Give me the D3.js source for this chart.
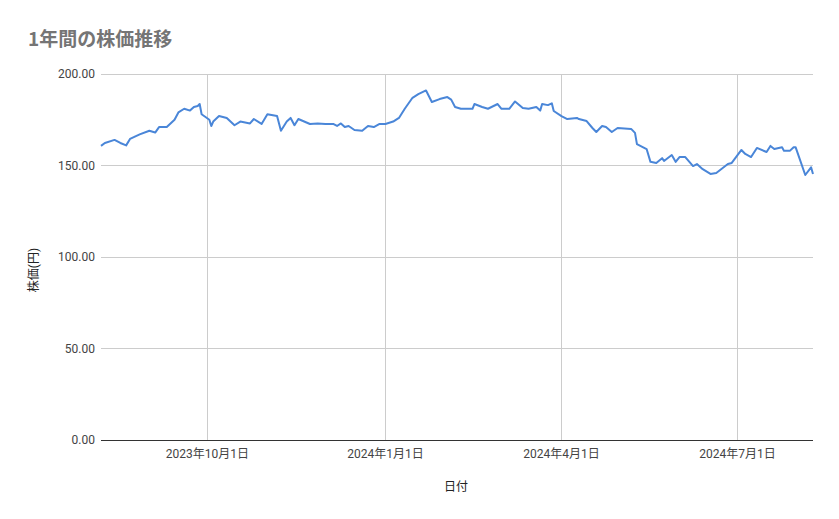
<!DOCTYPE html>
<html><head><meta charset="utf-8">
<script src="https://cdn.jsdelivr.net/npm/d3@7"></script>
<style>body{margin:0;background:#fff;font-family:"Noto Sans CJK JP","Roboto",sans-serif}</style>
</head><body><svg id="c" width="839" height="519"></svg>
<script>
const dates = ["2023-08-07","2023-08-09","2023-08-14","2023-08-17","2023-08-20","2023-08-22","2023-08-27","2023-09-01","2023-09-04","2023-09-06","2023-09-10","2023-09-14","2023-09-16","2023-09-19","2023-09-22","2023-09-24","2023-09-26","2023-09-27","2023-09-28","2023-10-02","2023-10-03","2023-10-04","2023-10-07","2023-10-11","2023-10-15","2023-10-18","2023-10-23","2023-10-25","2023-10-29","2023-11-01","2023-11-06","2023-11-08","2023-11-11","2023-11-13","2023-11-15","2023-11-17","2023-11-23","2023-11-27","2023-12-01","2023-12-05","2023-12-07","2023-12-09","2023-12-11","2023-12-13","2023-12-16","2023-12-20","2023-12-23","2023-12-26","2023-12-29","2024-01-01","2024-01-05","2024-01-08","2024-01-11","2024-01-15","2024-01-18","2024-01-22","2024-01-25","2024-01-29","2024-02-02","2024-02-04","2024-02-06","2024-02-09","2024-02-15","2024-02-16","2024-02-20","2024-02-23","2024-02-28","2024-03-01","2024-03-05","2024-03-08","2024-03-12","2024-03-15","2024-03-19","2024-03-21","2024-03-22","2024-03-25","2024-03-27","2024-03-28","2024-04-01","2024-04-04","2024-04-09","2024-04-10","2024-04-14","2024-04-17","2024-04-19","2024-04-22","2024-04-24","2024-04-27","2024-04-30","2024-05-07","2024-05-09","2024-05-10","2024-05-15","2024-05-17","2024-05-20","2024-05-23","2024-05-24","2024-05-28","2024-05-30","2024-06-01","2024-06-04","2024-06-08","2024-06-10","2024-06-13","2024-06-17","2024-06-20","2024-06-26","2024-06-28","2024-07-03","2024-07-05","2024-07-08","2024-07-11","2024-07-16","2024-07-18","2024-07-20","2024-07-24","2024-07-25","2024-07-28","2024-07-30","2024-07-31","2024-08-05","2024-08-08","2024-08-09"];
const prices = [160.7,162.3,164,162.3,161,164.5,167,169,168,171,171,175,179,181,180,182,182.5,183.6,178,175,171.6,174,177,176,172,174,173,175.4,172.7,178,177,169,174,176,172,175.4,172.7,173,172.7,172.7,171.6,173,171,171.6,169.4,169,171.6,171,172.7,172.7,174,176,181,187,189,191,184.7,186.3,187.4,186,182,181,181,183.6,182,181,183.6,181,181,185,181.4,181,182,180,183.6,183,184,179.8,177,175.4,176,175.4,174.3,170.5,168.3,171.6,171,168.3,170.5,170,167.8,161.7,159,152,151.4,154,152.5,155.7,152,154.6,154.6,149.7,150.8,148,145.4,145.9,150.8,151.4,158.5,156.3,154.6,159.6,157.4,160.7,159,160,158,158,160,160,144.8,149,145.4];
const yTicks = [0,50,100,150,200];
const xTickDates = ["2023-10-01","2024-01-01","2024-04-01","2024-07-01"];
const xTickLabels = ["2023年10月1日","2024年1月1日","2024年4月1日","2024年7月1日"];
const title = "1年間の株価推移", yTitle = "株価(円)", xTitle = "日付";

const p = d3.timeParse("%Y-%m-%d");
const data = dates.map((d,i)=>({d:p(d),v:prices[i]}));
const svg = d3.select("#c");
const L=101,R=813,T=74,B=440;
const x = d3.scaleTime().domain([p("2023-08-07"),p("2024-08-09")]).range([L,R]);
const y = d3.scaleLinear().domain([0,200]).range([B,T]);
const font='"Roboto","Noto Sans CJK JP",sans-serif';

svg.append("text").attr("x",28).attr("y",46).text(title).attr("fill","#757575")
  .attr("font-size",19).attr("font-weight","bold").attr("font-family",'"Noto Sans CJK JP",sans-serif');

svg.append("g").selectAll("line").data(yTicks).join("line")
  .attr("x1",L).attr("x2",R).attr("y1",d=>y(d)).attr("y2",d=>y(d))
  .attr("stroke",d=>d===0?"#333":"#cccccc").attr("stroke-width",1).attr("shape-rendering","crispEdges");
svg.append("g").selectAll("line").data(xTickDates).join("line")
  .attr("x1",d=>x(p(d))).attr("x2",d=>x(p(d))).attr("y1",T).attr("y2",B)
  .attr("stroke","#cccccc").attr("shape-rendering","crispEdges");
svg.append("line").attr("x1",L).attr("x2",R).attr("y1",B).attr("y2",B).attr("stroke","#333").attr("shape-rendering","crispEdges");

svg.append("g").selectAll("text").data(yTicks).join("text")
  .attr("x",95).attr("y",d=>y(d)+4).attr("text-anchor","end").attr("font-size",12)
  .attr("font-family",font).attr("fill","#444").text(d=>d3.format(".2f")(d));
svg.append("g").selectAll("text").data(xTickDates).join("text")
  .attr("x",d=>x(p(d))).attr("y",458).attr("text-anchor","middle").attr("font-size",12)
  .attr("font-family",font).attr("fill","#444").text((d,i)=>xTickLabels[i]);

svg.append("text").attr("transform","translate(38,270) rotate(-90)").attr("text-anchor","middle")
  .attr("font-size",12).attr("font-family",font).attr("fill","#222").text(yTitle);
svg.append("text").attr("x",456).attr("y",491).attr("text-anchor","middle")
  .attr("font-size",12).attr("font-family",font).attr("fill","#222").text(xTitle);

svg.append("path").datum(data).attr("fill","none").attr("stroke","#4a86d8").attr("stroke-width",2)
  .attr("stroke-linejoin","round")
  .attr("d",d3.line().x(d=>x(d.d)).y(d=>y(d.v)));
</script></body></html>
